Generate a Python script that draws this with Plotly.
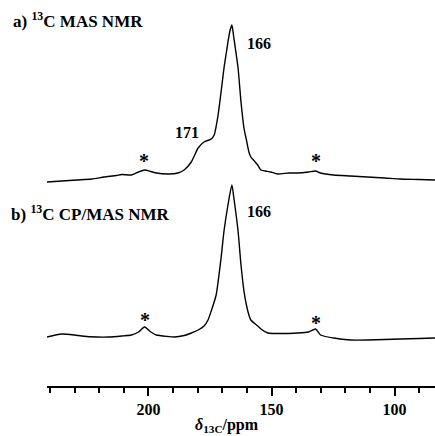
import plotly.graph_objects as go

# Chemical shift (ppm) and intensity (arb. units)
ppm_a = [241.2, 235.2, 229.0, 223.0, 218.0, 213.0, 210.9, 206.9, 204.0, 201.6,
         199.0, 196.8, 191.9, 188.0, 185.5, 182.6, 179.8, 177.4, 174.5, 173.3,
         171.7, 170.5, 169.3, 168.5, 167.7, 166.9, 166.1, 165.3, 163.6, 162.4,
         161.2, 160.2, 159.2, 158.4, 157.0, 155.6, 154.3, 152.5, 150.3, 147.5,
         143.0, 139.4, 135.0, 132.1, 130.1, 124.8, 118.0, 111.1, 104.0, 97.8,
         90.0, 83.6]
int_a = [0, 1, 2, 3, 5, 6.5, 7.5, 7, 10, 12,
         10.5, 9, 8, 9, 12, 20, 34, 40, 43, 47,
         67, 90, 114, 127, 140, 151, 157, 144, 114, 80,
         54, 42, 30, 25, 21, 17, 12, 11, 10, 8,
         9, 9, 10, 11, 9, 7, 6, 5, 4, 3,
         2.5, 2]

ppm_b = [241.2, 235.2, 230.0, 227.1, 221.0, 216.2, 210.9, 206.9, 204.0, 201.6,
         199.0, 196.8, 192.0, 189.5, 185.5, 182.6, 179.8, 177.4, 175.8, 174.5,
         172.5, 170.5, 169.3, 167.7, 166.1, 165.3, 163.6, 162.4, 161.2, 160.2,
         159.2, 158.4, 155.6, 154.3, 151.5, 147.5, 139.4, 135.0, 132.1, 130.1,
         124.8, 118.0, 111.1, 104.0, 97.8, 90.0, 83.6]
int_b = [0, 3, 2, 1, 0, 0, 1, 2, 5, 10,
         5, 2, 0.5, 0, 1.5, 4, 7, 11, 17, 26,
         42, 79, 106, 132, 152, 139, 106, 72, 46, 32,
         22, 17, 11, 8, 4, 3.5, 4, 5, 8, 2,
         -1, -3, -3, -2.5, -2, -1.5, -1]

offset_a = 204
offset_b = 49

tick_vals = [200, 150, 100]
tick_text = ["<b>200</b>", "<b>150</b>", "<b>100</b>"]

FONT = "Liberation Serif"
W, H = 435, 436
L, B = 47, 50
PW = W - L

fig = go.Figure()
fig.add_trace(go.Scatter(x=ppm_a, y=[v + offset_a for v in int_a], mode="lines",
                         line=dict(color="black", width=1.4, shape="spline", smoothing=0.6),
                         hoverinfo="skip"))
fig.add_trace(go.Scatter(x=ppm_b, y=[v + offset_b for v in int_b], mode="lines",
                         line=dict(color="black", width=1.4, shape="spline", smoothing=0.6),
                         hoverinfo="skip"))

def ann(text, x, y, xanchor="center", size=16, xref="x", yref="y"):
    fig.add_annotation(text=text, x=x, y=y, xref=xref, yref=yref, showarrow=False,
                       xanchor=xanchor, yanchor="middle",
                       font=dict(family=FONT, size=size, color="black"))

def px_to_paper_x(px):
    return (px - L) / PW

ann("<b>a) <sup>13</sup>C MAS NMR</b>", px_to_paper_x(11), 366, xanchor="left", size=17, xref="paper")
ann("<b>b) <sup>13</sup>C CP/MAS NMR</b>", px_to_paper_x(9), 173, xanchor="left", size=17, xref="paper")
ann("<b>166</b>", 155.2, 343)
ann("<b>171</b>", 184.2, 254)
ann("<b>*</b>", 201.6, 225, size=20)
ann("<b>*</b>", 132.1, 225, size=20)
ann("<b>166</b>", 155.2, 175)
ann("<b>*</b>", 201.2, 66, size=20)
ann("<b>*</b>", 132.1, 63, size=20)
ann("<b><i>δ</i><sub>13C</sub>/ppm</b>", 168.1, -0.103, yref="paper", size=16)

fig.update_layout(
    width=W, height=H,
    margin=dict(l=L, r=0, t=0, b=B),
    paper_bgcolor="white", plot_bgcolor="white",
    showlegend=False,
    xaxis=dict(range=[241.2, 83.6], showgrid=False, zeroline=False,
               showline=True, linecolor="black", linewidth=2,
               tickmode="array", tickvals=tick_vals, ticktext=tick_text,
               ticks="outside", ticklen=8, tickwidth=2, tickcolor="black",
               tickfont=dict(family=FONT, size=16, color="black", weight="bold"),
               minor=dict(tickmode="linear", tick0=0, dtick=10, ticks="outside",
                          ticklen=5, tickwidth=2, tickcolor="black"),
               fixedrange=True),
    yaxis=dict(range=[0, 386], visible=False, fixedrange=True),
)

fig.write_html("out.html", config={"displayModeBar": False, "staticPlot": True},
               post_script="document.body.style.margin='0';document.body.style.padding='0';")
